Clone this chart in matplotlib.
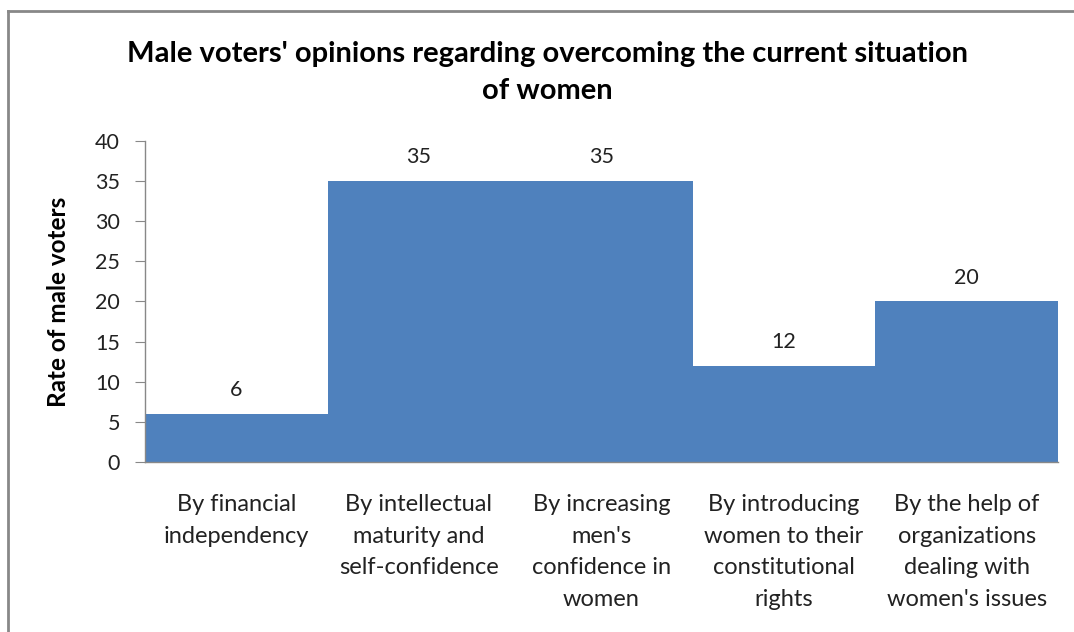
import matplotlib.pyplot as plt
from matplotlib.lines import Line2D

plt.rcParams['font.family'] = ['Lato', 'DejaVu Sans']

categories = [
    "By financial\nindependency",
    "By intellectual\nmaturity and\nself-confidence",
    "By increasing\nmen's\nconfidence in\nwomen",
    "By introducing\nwomen to their\nconstitutional\nrights",
    "By the help of\norganizations\ndealing with\nwomen's issues",
]
values = [6, 35, 35, 12, 20]
yticks = [0, 5, 10, 15, 20, 25, 30, 35, 40]

fig = plt.figure(figsize=(10.74, 6.32), dpi=100)
ax = fig.add_axes([0.135, 0.269, 0.850, 0.508])

x = range(len(values))
bars = ax.bar(x, values, width=1.0, color='#4F81BD', edgecolor='none')

for xi, v in zip(x, values):
    ax.text(xi, v + 1.7, str(v), ha='center', va='bottom', fontsize=15.5, color='#222222')

ax.set_xlim(-0.5, len(values) - 0.5)
ax.set_ylim(0, 40)
ax.set_yticks(yticks)
ax.set_xticks(list(x))
ax.set_xticklabels(categories, fontsize=17, color='#222222', linespacing=1.63, va='top')
ax.tick_params(axis='x', length=0, pad=23)
ax.tick_params(axis='y', length=7, color='#888888', labelsize=15.5, labelcolor='#222222', pad=11)

for side in ['top', 'right']:
    ax.spines[side].set_visible(False)
for side in ['left', 'bottom']:
    ax.spines[side].set_color('#888888')
    ax.spines[side].set_linewidth(1)

ax.set_ylabel("Rate of male voters", fontsize=17.5, fontweight='bold', labelpad=18)

fig.text(0.51, 0.885, "Male voters' opinions regarding overcoming the current situation\nof women",
         ha='center', va='center', fontsize=21, fontweight='bold', linespacing=1.5)

# outer chart frame (top and left edges)
fig.add_artist(Line2D([0.007, 1.0], [0.982, 0.982], transform=fig.transFigure, color='#888888', lw=2))
fig.add_artist(Line2D([0.007, 0.007], [0.0, 0.982], transform=fig.transFigure, color='#888888', lw=2))

fig.savefig('out.png', dpi=100)
